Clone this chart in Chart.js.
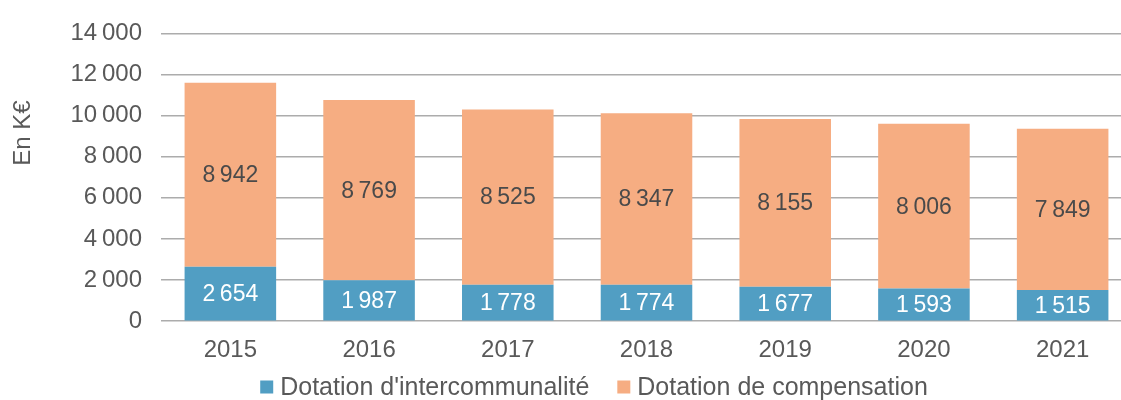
<!DOCTYPE html>
<html>
<head>
<meta charset="utf-8">
<script src="https://cdn.jsdelivr.net/npm/chart.js@4.4.1/dist/chart.umd.min.js"></script>
<style>
  html, body { margin: 0; padding: 0; background: #fff; overflow: hidden; }
  #wrap { position: relative; width: 1132px; height: 400px; }
</style>
</head>
<body>
<div id="wrap"><canvas id="c"></canvas></div>
<script>
const categories = ['2015', '2016', '2017', '2018', '2019', '2020', '2021'];
const intercommunalite = [2654, 1987, 1778, 1774, 1677, 1593, 1515];
const compensation = [8942, 8769, 8525, 8347, 8155, 8006, 7849];
const seriesNames = ["Dotation d'intercommunalité", 'Dotation de compensation'];
const yTicks = [0, 2000, 4000, 6000, 8000, 10000, 12000, 14000];
const yTitle = 'En K€';

const FONT = "'Liberation Sans', Arial, sans-serif";
const TXT = '#595959';
const COLORS = ['#519EC3', '#F6AD82'];

function fmt(v) {
  const s = String(Math.round(v));
  return s.length > 3 ? s.slice(0, s.length - 3) + '\u2009' + s.slice(-3) : s;
}

const labelPlugin = {
  id: 'barLabels',
  afterDatasetsDraw(chart) {
    const ctx = chart.ctx;
    ctx.save();
    ctx.font = '23px ' + FONT;
    ctx.textAlign = 'center';
    ctx.textBaseline = 'middle';
    chart.data.datasets.forEach((ds, di) => {
      const meta = chart.getDatasetMeta(di);
      ctx.fillStyle = di === 0 ? '#ffffff' : '#4a4a4a';
      meta.data.forEach((bar, i) => {
        const p = bar.getCenterPoint();
        ctx.fillText(fmt(ds.data[i]), p.x, p.y + 1);
      });
    });
    ctx.restore();
  }
};

const titlePlugin = {
  id: 'yTitle',
  afterDraw(chart) {
    const ctx = chart.ctx;
    ctx.save();
    ctx.font = '24px ' + FONT;
    ctx.fillStyle = TXT;
    ctx.textAlign = 'center';
    ctx.textBaseline = 'middle';
    ctx.translate(23, 133);
    ctx.rotate(-Math.PI / 2);
    ctx.fillText(yTitle, 0, 0);
    ctx.restore();
  }
};

const legendPlugin = {
  id: 'customLegend',
  afterDraw(chart) {
    const ctx = chart.ctx;
    ctx.save();
    ctx.font = '25px ' + FONT;
    ctx.textBaseline = 'middle';
    ctx.textAlign = 'left';
    const box = 13, gap = 7, itemGap = 28, cy = 387, cx = 594;
    const items = chart.data.datasets.map(ds => ({ text: ds.label, color: ds.backgroundColor, w: ctx.measureText(ds.label).width }));
    let total = 0;
    items.forEach((it, i) => { total += box + gap + it.w + (i < items.length - 1 ? itemGap : 0); });
    let x = cx - total / 2;
    items.forEach(it => {
      ctx.fillStyle = it.color;
      ctx.fillRect(x, cy - box / 2, box, box);
      x += box + gap;
      ctx.fillStyle = TXT;
      ctx.fillText(it.text, x, cy + 1);
      x += it.w + itemGap;
    });
    ctx.restore();
  }
};

new Chart(document.getElementById('c'), {
  type: 'bar',
  data: {
    labels: categories,
    datasets: [
      { label: seriesNames[0], data: intercommunalite, backgroundColor: COLORS[0], categoryPercentage: 0.66, barPercentage: 1 },
      { label: seriesNames[1], data: compensation, backgroundColor: COLORS[1], categoryPercentage: 0.66, barPercentage: 1 }
    ]
  },
  options: {
    responsive: true,
    maintainAspectRatio: false,
    animation: false,
    layout: { padding: { left: 60, right: 0, top: 21, bottom: 20 } },
    plugins: {
      tooltip: { enabled: false },
      legend: { display: false }
    },
    scales: {
      x: {
        stacked: true,
        grid: { display: false, drawTicks: false },
        border: { display: false },
        ticks: { font: { family: FONT, size: 24 }, color: TXT, padding: 15 }
      },
      y: {
        stacked: true,
        min: 0,
        max: 14000,
        z: 1,
        afterFit(scale) { scale.width = 101; },
        afterBuildTicks(scale) { scale.ticks = yTicks.map(v => ({ value: v })); },
        grid: { color: 'rgba(90,90,90,0.5)', lineWidth: 1.5, drawTicks: false },
        border: { display: false },
        ticks: {
          font: { family: FONT, size: 24 },
          color: TXT,
          padding: 19,
          callback: v => fmt(v)
        }
      }
    }
  },
  plugins: [labelPlugin, titlePlugin, legendPlugin]
});
</script>
</body>
</html>
